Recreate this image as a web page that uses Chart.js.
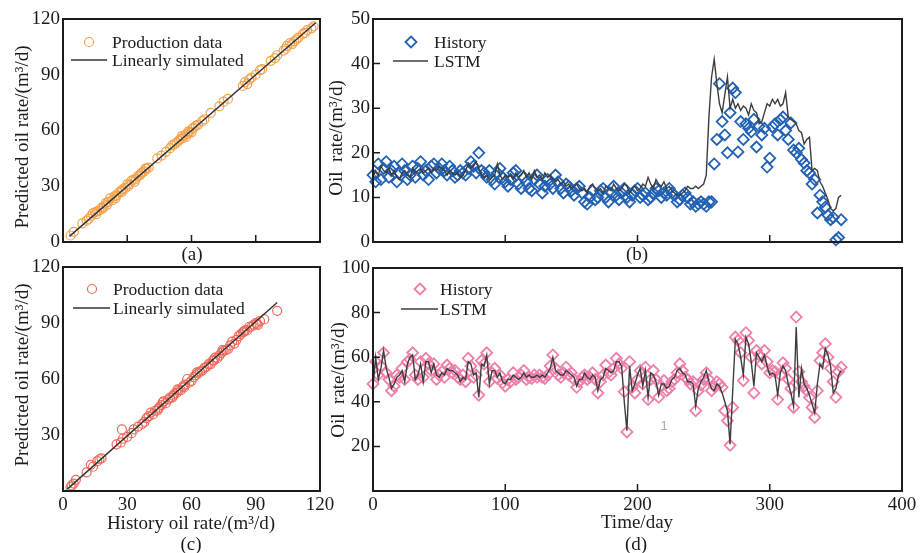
<!DOCTYPE html>
<html>
<head>
<meta charset="utf-8">
<title>Oil rate prediction</title>
<script src="https://cdn.jsdelivr.net/npm/chart.js@4.4.0/dist/chart.umd.min.js"></script>
<style>
  html, body { margin: 0; padding: 0; background: #fff; }
  #wrap { position: relative; width: 922px; height: 553px; overflow: hidden; background: #fff; }
  #wrap canvas { position: absolute; left: 0; top: 0; }
</style>
</head>
<body>
<div id="wrap">
  <canvas id="chartA" width="922" height="553"></canvas>
  <canvas id="chartB" width="922" height="553"></canvas>
  <canvas id="chartC" width="922" height="553"></canvas>
  <canvas id="chartD" width="922" height="553"></canvas>
</div>
<script>
// ============================================================================
// DATA
// ============================================================================

// (a) training wells: history vs predicted rate, m3/d
const trainHist = [3.5, 5, 9, 11, 12, 13, 14, 15, 15.5, 16, 17, 18, 18.5, 19, 20, 20.5, 21, 22, 23, 24,
  24.5, 25, 26, 27, 27.5, 28, 29, 30, 30.5, 31, 32, 33, 33.5, 34, 35, 36, 36.5, 37, 38, 38.5,
  39, 40, 44, 46, 48, 50, 51, 52, 53, 54, 55, 55.5, 56, 57, 57.5, 58, 58.5, 59, 60, 60.5,
  61, 62, 63, 65, 66, 69, 73, 75, 77, 84, 85, 86, 87, 88, 90, 92, 93, 97, 99, 100,
  103, 104, 104.5, 106, 107, 108, 109, 110, 112, 113, 114, 116, 117];
const trainPred = [3.5, 5.5, 10, 11.5, 12.5, 14, 15.5, 16, 15, 16.5, 17, 18.5, 18, 19, 21, 20, 21.5, 23.5, 22.5, 24.5,
  23.5, 25, 26.5, 27.5, 27, 28.5, 29, 31, 30, 31, 33, 33.5, 32.5, 34, 35.5, 36, 37, 37.5, 38, 39.5,
  39.5, 40, 45, 46.5, 48.5, 50.5, 52, 52.5, 53.5, 54.5, 55.5, 57, 56, 57.5, 56.5, 58, 59.5, 59, 59, 61,
  61.5, 62.5, 63, 65, 66, 69.5, 73, 75.5, 77, 84, 86, 85, 87.5, 88.5, 90, 92.5, 93, 97.5, 99, 100.5,
  103, 104, 105.5, 107, 106.5, 108, 109, 110, 112, 112.5, 114, 115, 116];
const trainFitX = [3, 118];
const trainFitY = [3, 118];

// (c) test wells: history vs predicted rate, m3/d
const testHist = [3.5, 4, 5, 6, 11, 13, 14, 16, 17, 18, 25, 27, 28, 27.5, 30, 32, 33, 35, 37, 38,
  39, 40, 41, 42, 43, 44, 44.5, 45, 46, 46.5, 47, 48, 49, 50, 51, 51.5, 52, 53, 53.5, 54,
  55, 56, 56.5, 57, 58, 59, 60, 61, 62, 62.5, 63, 64, 65, 66, 67, 68, 69, 70, 70.5, 71,
  72, 73, 74, 74.5, 75, 76, 77, 78, 79, 80, 81, 82, 83, 84, 84.5, 85, 86, 87, 88, 89,
  90, 90.5, 91, 92, 94, 100];
const testPred = [2, 3, 4, 6, 10, 14, 13, 16, 17, 17.5, 25, 26, 28, 33, 29, 31, 33, 34.5, 36, 37,
  39, 40, 42, 41, 43, 43, 44, 45, 46, 47.5, 48, 47, 49, 50, 50, 51, 52, 52.5, 54.5, 54,
  54, 56, 55.5, 57, 60, 58, 59, 61, 62, 63.5, 63, 64, 64.5, 66, 66.5, 68, 68, 70, 70, 71.5,
  71, 72.5, 74, 75.5, 75, 75.5, 76, 78, 80, 79, 81, 83, 84, 85, 85.5, 86, 86, 88, 88, 89,
  90, 89.5, 89, 91, 92, 96.5];
const testFitX = [2, 100];
const testFitY = [1, 101];

// (b) and (d) daily series sampled every 2 days
const sampleStep = 2;

// (b) well B oil rate, m3/d
const histB = [
  15, 13.5, 17.5, 14, 16.5, 18, 14.5, 16, 17, 13.5,
  15.5, 17.5, 16, 14, 15, 17, 14.5, 16.5, 18, 15,
  16, 14, 17, 17.5, 15.5, 16.5, 17.5, 16, 15, 17,
  16, 14.5, 15, 16, 15.5, 15, 16.5, 18, 17, 15.5,
  20, 16, 15.5, 14.5, 16, 14, 13, 15.5, 16.5, 14.5,
  13.5, 12.5, 14, 15.5, 16, 13, 12, 14.5, 13.5, 12,
  11.5, 14, 15, 13, 11, 12.5, 14, 13, 12, 15,
  13.5, 12, 11, 13, 12.5, 11.5, 10.5, 12, 12.5, 11,
  9, 8.5, 10, 11.5, 9.5, 10, 11.5, 12, 10, 9,
  11, 12.5, 10.5, 9.5, 11, 12, 10, 9, 10.5, 11.5,
  12, 10, 10.5, 11, 9.5, 10, 11, 12, 11.5, 10,
  11, 10.5, 12, 11, 10.5, 9, 9.5, 10.5, 11, 10,
  8.5, 9, 8, 8.5, 9, 8.5, 8, 9, 9, 17.5,
  23, 35.5, 27, 24, 20, 29, 34.5, 33.5, 20.2, 27,
  23, 26.5, 25.5, 24.7, 27.5, 21.3, 26, 24, 25.5, 16.8,
  18.8, 25.8, 26.5, 24, 27.4, 28, 25, 23, 26.7, 20.6,
  20, 21, 18.5, 17.7, 16, 15.5, 13, 14, 6.5, 10.5,
  9, 7.8, 6, 5, 5.5, 0.5, 1, 5
];
const lstmB = [
  14.5, 16, 15, 17, 16, 15.5, 16.5, 15, 16, 14.5,
  14, 15.5, 16, 15, 14.5, 16.5, 15.5, 16, 16.5, 15.5,
  16, 16.5, 15.5, 16.5, 16, 17, 16.5, 16, 15, 16,
  15.5, 15, 15.5, 14.5, 15, 16, 17.5, 16.5, 17, 18,
  16.5, 15, 14.5, 15, 14, 14.5, 15, 17.5, 15, 14,
  15, 14.5, 15, 14, 15.5, 14.5, 15, 16, 14.5, 15.5,
  14, 16, 14.5, 15, 14, 15.5, 14.5, 15, 14, 13.5,
  14, 13, 13.5, 12.5, 13, 12, 12.5, 13, 12, 11.5,
  12, 11, 12.5, 13, 12, 11.5, 12, 11, 12.5, 12,
  11.5, 13, 12, 11.5, 12, 13, 12.5, 11, 12, 12.5,
  11.5, 12, 13, 12.5, 14.5, 13, 12, 14, 13, 12.5,
  13.5, 12, 12.5, 11.5, 11, 10.5, 10.5, 11, 11.5, 12.5,
  12, 12, 12.5, 12, 12.5, 13, 15, 28, 37, 41,
  35.5, 31, 29, 33, 37, 30, 32, 30, 31, 29.5,
  30.5, 30, 28.5, 31, 29.5, 29, 26.5, 27, 29, 31,
  30.5, 32, 31, 32, 30.5, 31, 33.5, 28, 27.5, 27,
  26.5, 25, 24.5, 22, 23, 23.5, 16, 16.5, 16, 13.5,
  12.5, 11, 9.5, 7.5, 7, 7.5, 10, 10.5
];

// (d) well D oil rate, m3/d
const histD = [
  48, 58, 52, 56, 62, 53, 50, 45, 47, 52,
  51, 55, 50, 58, 59, 62, 52, 50, 58, 51,
  59.5, 57, 54, 57, 50, 52, 53.5, 51, 56.5, 55,
  53, 54, 51, 50, 52, 49, 59.5, 56, 51, 52,
  43, 58.5, 57, 62, 49, 53, 55, 50.5, 52, 48.5,
  47, 50, 49, 53, 50, 51, 52, 54, 50, 51,
  50.5, 52, 51, 52, 51, 50.5, 52, 56, 61, 55,
  52, 51, 53, 55.5, 52, 53, 50, 46.5, 49, 51,
  52, 50, 51, 53, 50, 44, 49, 52, 56.5, 53,
  52, 55, 59.5, 57, 55, 44.5, 26.5, 58, 46.5, 44,
  50, 54, 48, 55.5, 41, 50, 54, 50, 42, 47,
  49.5, 45, 46, 49, 50, 53, 57, 54, 51, 50,
  48, 49, 36, 45, 47.5, 50, 53, 50, 45, 47,
  49, 48, 46.5, 36, 31.5, 20.5, 37.5, 69, 67.5, 62,
  49.5, 71, 67.5, 60, 44, 63, 61, 57, 63, 58,
  53, 54, 53.5, 41, 52, 57.5, 55, 50, 46, 37.5,
  78, 53.5, 49, 47, 45, 42, 37.5, 33, 45, 58.5,
  62, 66, 60, 55, 49, 42, 53.5, 55.5
];
const lstmD = [
  47, 60, 50, 55, 63, 55, 51, 46, 48, 51,
  52, 54, 49, 57, 60, 61, 50, 52, 57, 49,
  58, 58, 53, 57, 52, 51, 53, 52, 55, 54,
  54, 53, 52, 49, 51, 50, 58, 57, 52, 53,
  42, 57, 56, 61, 48, 54, 54, 51, 53, 49,
  48, 50, 50, 52, 51, 50, 51, 53, 51, 52,
  51, 51, 52, 51, 52, 51, 53, 55, 60, 54,
  53, 52, 52, 54, 53, 52, 51, 47, 50, 50,
  53, 51, 50, 52, 51, 45, 50, 51, 55, 54,
  53, 54, 58, 58, 56, 40, 27, 56, 45, 48,
  52, 55, 47, 54, 42, 53, 52, 49, 43, 48,
  48, 46, 47, 50, 51, 54, 55, 53, 52, 49,
  49, 48, 38, 46, 49, 51, 54, 49, 46, 45,
  48, 47, 44, 40, 36, 21, 45, 68, 66, 60,
  52, 69, 66, 58, 47, 62, 60, 58, 61, 56,
  52, 53, 52, 43, 53, 56, 54, 48, 44, 38,
  73.5, 42, 55, 48, 46, 43, 39, 35, 48, 57,
  55, 64, 61, 56, 44, 46, 52, 54
];

// ============================================================================
// STYLE
// ============================================================================

const SERIF = '"Liberation Serif", "Times New Roman", serif';
const INK = '#1c1c1c';
const FIT_LINE = '#333333';
const LSTM_LINE = '#3d3d3d';
const ORANGE = '#f5a24e';
const RED = '#ef6a5a';
const BLUE = '#2262b4';
const PINK = '#ef7fac';

Chart.defaults.font.family = SERIF;
Chart.defaults.font.size = 19;
Chart.defaults.color = INK;
Chart.defaults.animation = false;

const toPoints = (xs, ys) => xs.map((x, i) => ({ x: x, y: ys[i] }));
const toSeries = (vals) => vals.map((v, i) => ({ x: i * sampleStep, y: v }));

// ============================================================================
// FRAME, TICKS, LEGEND AND TITLES
// ============================================================================

function drawMarker(ctx, style, x, y, r) {
    ctx.beginPath();
    if (style === 'rectRot') {
        ctx.moveTo(x, y - r);
        ctx.lineTo(x + r, y);
        ctx.lineTo(x, y + r);
        ctx.lineTo(x - r, y);
        ctx.closePath();
    } else {
        ctx.arc(x, y, r, 0, Math.PI * 2);
    }
    ctx.stroke();
}

const panelDecor = {
    id: 'panelDecor',
    afterDraw(chart, args, opts) {
        const { ctx, chartArea: a } = chart;
        const xs = chart.scales.x, ys = chart.scales.y;
        ctx.save();

        // box round the plot
        ctx.strokeStyle = INK;
        ctx.lineWidth = 2;
        ctx.strokeRect(a.left, a.top, a.right - a.left, a.bottom - a.top);

        // tick marks pointing inside
        ctx.lineWidth = 1.5;
        ctx.beginPath();
        if (opts.xTicks) {
            xs.ticks.forEach(t => {
                const px = xs.getPixelForValue(t.value);
                if (px > a.left + 2 && px < a.right - 2) {
                    ctx.moveTo(px, a.bottom);
                    ctx.lineTo(px, a.bottom - 7);
                }
            });
        }
        if (opts.yTicks) {
            ys.ticks.forEach(t => {
                const py = ys.getPixelForValue(t.value);
                if (py > a.top + 2 && py < a.bottom - 2) {
                    ctx.moveTo(a.left, py);
                    ctx.lineTo(a.left + 7, py);
                }
            });
        }
        ctx.stroke();

        // legend
        ctx.font = `17.5px ${SERIF}`;
        ctx.textAlign = 'left';
        ctx.textBaseline = 'middle';
        (opts.legend || []).forEach(item => {
            const ds = chart.data.datasets[item.ds];
            if (item.marker) {
                ctx.strokeStyle = ds.pointBorderColor;
                ctx.lineWidth = ds.pointBorderWidth;
                drawMarker(ctx, ds.pointStyle, item.mx, item.y, ds.pointRadius);
            } else {
                ctx.strokeStyle = ds.borderColor;
                ctx.lineWidth = ds.borderWidth;
                ctx.beginPath();
                ctx.moveTo(item.x0, item.y);
                ctx.lineTo(item.x1, item.y);
                ctx.stroke();
            }
            ctx.fillStyle = INK;
            ctx.fillText(ds.label, item.tx, item.y + 1);
        });

        // axis titles and panel tag
        ctx.fillStyle = INK;
        ctx.font = `19px ${SERIF}`;
        ctx.textAlign = 'center';
        ctx.textBaseline = 'middle';
        if (opts.yTitle) {
            ctx.save();
            ctx.translate(opts.yTitle.x, opts.yTitle.y);
            ctx.rotate(-Math.PI / 2);
            ctx.fillText(opts.yTitle.text, 0, 0);
            ctx.restore();
        }
        if (opts.xTitle) ctx.fillText(opts.xTitle.text, opts.xTitle.x, opts.xTitle.y);
        if (opts.tag) {
            ctx.font = `19px ${SERIF}`;
            ctx.fillText(opts.tag.text, opts.tag.x, opts.tag.y);
        }
        if (opts.note) {
            ctx.font = '13px "Liberation Sans", Arial, sans-serif';
            ctx.fillStyle = '#a9a9a9';
            ctx.fillText(opts.note.text, opts.note.x, opts.note.y);
        }
        ctx.restore();
    }
};

// ============================================================================
// PANEL BUILDER
// ============================================================================

const PAGE_W = 922, PAGE_H = 553;
const Y_AXIS_W = 50, X_AXIS_H = 30;

function makePanel(canvasId, box, datasets, scales, decor) {
    const ctx = document.getElementById(canvasId).getContext('2d');
    return new Chart(ctx, {
        type: 'scatter',
        data: { datasets: datasets },
        options: {
            responsive: false,
            animation: false,
            layout: {
                padding: {
                    left: box.left - Y_AXIS_W,
                    top: box.top,
                    right: PAGE_W - box.right,
                    bottom: PAGE_H - box.bottom - X_AXIS_H
                }
            },
            plugins: {
                legend: { display: false },
                tooltip: { enabled: false },
                panelDecor: decor
            },
            scales: {
                x: Object.assign({
                    type: 'linear',
                    grid: { display: false, drawTicks: false },
                    border: { display: false },
                    afterFit: (s) => { s.height = X_AXIS_H; }
                }, scales.x),
                y: Object.assign({
                    type: 'linear',
                    grid: { display: false, drawTicks: false },
                    border: { display: false },
                    afterFit: (s) => { s.width = Y_AXIS_W; }
                }, scales.y)
            }
        },
        plugins: [panelDecor]
    });
}

const hideZero = (v) => (v === 0 ? '' : v);

// ============================================================================
// (a) TRAINING CROSS PLOT
// ============================================================================

makePanel('chartA', { left: 63, right: 320, top: 19, bottom: 242 }, [
    {
        label: 'Production data',
        data: toPoints(trainHist, trainPred),
        showLine: false,
        pointStyle: 'circle',
        pointRadius: 4.5,
        pointBorderWidth: 1.2,
        pointBorderColor: ORANGE,
        pointBackgroundColor: 'rgba(0,0,0,0)',
        order: 1,
        clip: false
    },
    {
        label: 'Linearly simulated',
        data: toPoints(trainFitX, trainFitY),
        showLine: true,
        borderColor: FIT_LINE,
        borderWidth: 1.5,
        pointRadius: 0,
        order: 0
    }
], {
    x: { min: 0, max: 120, ticks: { stepSize: 30, display: false } },
    y: { min: 0, max: 120, ticks: { stepSize: 30, padding: 3 } }
}, {
    xTicks: true,
    yTicks: false,
    legend: [
        { ds: 0, marker: true, mx: 89, y: 42, tx: 112 },
        { ds: 1, x0: 71, x1: 107, y: 60, tx: 112 }
    ],
    yTitle: { text: 'Predicted oil rate/(m³/d)', x: 23, y: 137 },
    tag: { text: '(a)', x: 192, y: 255 }
});

// ============================================================================
// (b) WELL B RATE HISTORY
// ============================================================================

makePanel('chartB', { left: 373, right: 902, top: 19, bottom: 242 }, [
    {
        label: 'History',
        data: toSeries(histB),
        showLine: false,
        pointStyle: 'rectRot',
        pointRadius: 5.5,
        pointBorderWidth: 1.8,
        pointBorderColor: BLUE,
        pointBackgroundColor: 'rgba(0,0,0,0)',
        order: 1,
        clip: false
    },
    {
        label: 'LSTM',
        data: toSeries(lstmB),
        showLine: true,
        borderColor: LSTM_LINE,
        borderWidth: 1.4,
        pointRadius: 0,
        order: 0
    }
], {
    x: { min: 0, max: 400, ticks: { stepSize: 100, display: false } },
    y: { min: 0, max: 50, ticks: { stepSize: 10, padding: 3 } }
}, {
    xTicks: true,
    yTicks: true,
    legend: [
        { ds: 0, marker: true, mx: 411, y: 42, tx: 434 },
        { ds: 1, x0: 393, x1: 428, y: 61, tx: 434 }
    ],
    yTitle: { text: 'Oil  rate/(m³/d)', x: 337, y: 138 },
    tag: { text: '(b)', x: 637, y: 255 }
});

// ============================================================================
// (c) TEST CROSS PLOT
// ============================================================================

makePanel('chartC', { left: 63, right: 320, top: 267, bottom: 491 }, [
    {
        label: 'Production data',
        data: toPoints(testHist, testPred),
        showLine: false,
        pointStyle: 'circle',
        pointRadius: 4.5,
        pointBorderWidth: 1.2,
        pointBorderColor: RED,
        pointBackgroundColor: 'rgba(0,0,0,0)',
        order: 1,
        clip: false
    },
    {
        label: 'Linearly simulated',
        data: toPoints(testFitX, testFitY),
        showLine: true,
        borderColor: FIT_LINE,
        borderWidth: 1.5,
        pointRadius: 0,
        order: 0
    }
], {
    x: { min: 0, max: 120, ticks: { stepSize: 30, padding: 3 } },
    y: { min: 0, max: 120, ticks: { stepSize: 30, padding: 3, callback: hideZero } }
}, {
    xTicks: false,
    yTicks: false,
    legend: [
        { ds: 0, marker: true, mx: 92, y: 289, tx: 113 },
        { ds: 1, x0: 73, x1: 110, y: 308, tx: 113 }
    ],
    yTitle: { text: 'Predicted oil rate/(m³/d)', x: 23, y: 375 },
    xTitle: { text: 'History oil rate/(m³/d)', x: 191, y: 524 },
    tag: { text: '(c)', x: 191, y: 545 }
});

// ============================================================================
// (d) WELL D RATE HISTORY
// ============================================================================

makePanel('chartD', { left: 373, right: 902, top: 268, bottom: 491 }, [
    {
        label: 'History',
        data: toSeries(histD),
        showLine: false,
        pointStyle: 'rectRot',
        pointRadius: 5.5,
        pointBorderWidth: 1.8,
        pointBorderColor: PINK,
        pointBackgroundColor: 'rgba(0,0,0,0)',
        order: 1,
        clip: false
    },
    {
        label: 'LSTM',
        data: toSeries(lstmD),
        showLine: true,
        borderColor: LSTM_LINE,
        borderWidth: 1.4,
        pointRadius: 0,
        order: 0
    }
], {
    x: { min: 0, max: 400, ticks: { stepSize: 100, padding: 3 } },
    y: { min: 0, max: 100, ticks: { stepSize: 20, padding: 3, callback: hideZero } }
}, {
    xTicks: true,
    yTicks: true,
    legend: [
        { ds: 0, marker: true, mx: 420, y: 289, tx: 440 },
        { ds: 1, x0: 401, x1: 438, y: 309, tx: 440 }
    ],
    yTitle: { text: 'Oil  rate/(m³/d)', x: 339, y: 380 },
    xTitle: { text: 'Time/day', x: 637, y: 523 },
    tag: { text: '(d)', x: 636, y: 545 },
    note: { text: '1', x: 664, y: 426 }
});
</script>
</body>
</html>
